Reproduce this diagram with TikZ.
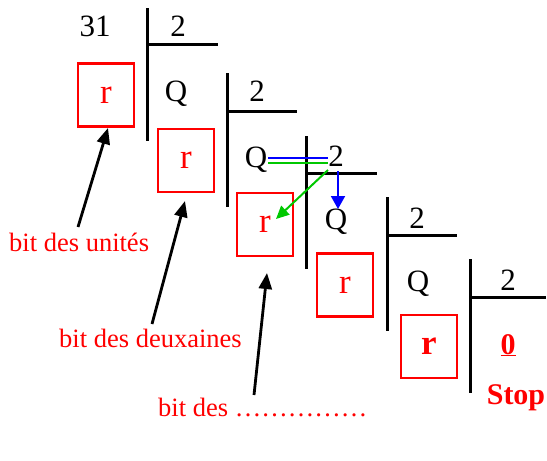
\documentclass[tikz,border=0pt]{standalone}
\usepackage{fontspec}
\setmainfont{Liberation Serif}
\usetikzlibrary{arrows.meta}
\definecolor{myred}{RGB}{255,0,0}
\definecolor{mygreen}{RGB}{0,200,0}
\definecolor{myblue}{RGB}{0,0,255}
\tikzset{
  txt/.style={inner sep=0pt, anchor=base, font=\fontsize{31}{34}\selectfont},
  redtxt/.style={inner sep=0pt, anchor=base, text=myred, font=\fontsize{26.5}{30}\selectfont},
  bold/.style={inner sep=0pt, anchor=base, text=myred, font=\fontsize{30}{34}\selectfont\bfseries},
  rbox/.style={draw=myred, line width=2.6pt, minimum width=56pt, minimum height=63pt, inner sep=0pt, text=myred, font=\fontsize{35}{40}\selectfont},
  divline/.style={line width=3pt, line cap=butt},
  arr/.style={line width=2.8pt, -{Triangle[length=16pt,width=13pt]}},
  garr/.style={draw=mygreen, line width=2pt, -{Triangle[length=13pt,width=12pt]}},
  barr/.style={draw=myblue, line width=2pt, -{Triangle[length=13pt,width=14pt]}},
}
\begin{document}
\begin{tikzpicture}[x=1pt,y=-1pt]
\useasboundingbox (0,0) rectangle (547,461);
% division lines
\draw[divline] (147,8) -- (147,141) (147,44) -- (218,44);
\draw[divline] (227,73) -- (227,207) (227,111) -- (297,111);
\draw[divline] (306,136) -- (306,269) (306,173) -- (377,173);
\draw[divline] (387,197) -- (387,331) (387,235) -- (457,235);
\draw[divline] (470,259) -- (470,393) (470,297) -- (546,297);
% numbers and quotients
\node[txt] (n31) at (95,36.5) {31};
\node[txt] (d1) at (178,36.5) {2};
\node[txt] (q1) at (176,101.5) {Q};
\node[txt] (d2) at (257,101) {2};
\node[txt] (q2) at (256,167) {Q};
\node[txt] (d3) at (336,166) {2};
\node[txt] (q3) at (336,229) {Q};
\node[txt] (d4) at (417,228) {2};
\node[txt] (q4) at (418,291) {Q};
\node[txt] (d5) at (508,290) {2};
% remainder boxes
\node[rbox] (b1) at (106,95) {r};
\node[rbox] (b2) at (186,160.5) {r};
\node[rbox] (b3) at (265,224.5) {r};
\node[rbox] (b4) at (345,285) {r};
\node[rbox, font=\fontsize{35}{40}\selectfont\bfseries] (b5) at (429,346.5) {r};
% zero and stop
\node[bold] (zero) at (508,354) {\underline{0}};
\node[bold] (stop) at (516,404) {Stop};
% labels
\node[redtxt, anchor=base west] (l1) at (9,251.5) {bit des unités};
\node[redtxt, anchor=base west] (l2) at (59,347) {bit des deuxaines};
\node[redtxt, anchor=base west] (l3) at (158,416) {bit des ……………};
% label arrows
\coordinate (t1) at (78,227);
\coordinate (h1) at (108,128);
\coordinate (t2) at (152,324);
\coordinate (h2) at (185,201);
\coordinate (t3) at (254,395);
\coordinate (h3) at (267,273);
\draw[arr] (t1) -- (h1);
\draw[arr] (t2) -- (h2);
\draw[arr] (t3) -- (h3);
% coloured double line and arrows
\coordinate (qa) at (268,158);
\coordinate (qb) at (328,158);
\coordinate (qc) at (268,163);
\coordinate (qd) at (328,163);
\draw[myblue, line width=1.8pt] (qa) -- (qb);
\draw[mygreen, line width=1.8pt] (qc) -- (qd);
\coordinate (g0) at (328,170);
\coordinate (g1) at (276,219);
\draw[garr] (g0) -- (g1);
\coordinate (bl0) at (338,171);
\coordinate (bl1) at (338,209);
\draw[barr] (bl0) -- (bl1);
\end{tikzpicture}
\end{document}
